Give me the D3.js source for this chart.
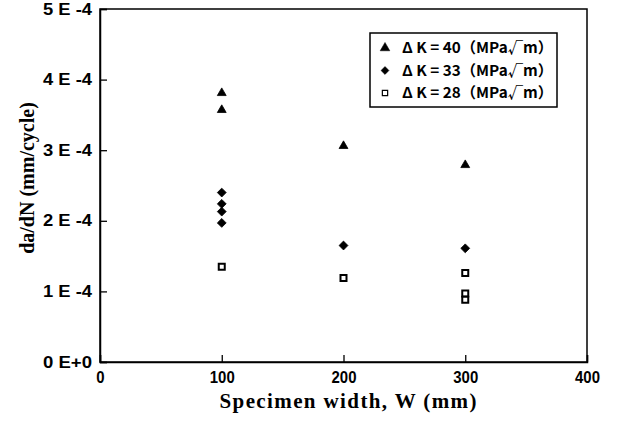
<!DOCTYPE html>
<html>
<head>
  <title>da/dN vs specimen width</title>
  <style>
    body { margin: 0; background: #fff; }
  </style>
</head>
<body>
  <div id="chart-container"></div>
  <script src="https://d3js.org/d3.v7.min.js"></script>
  <script>
    // data
    const widths40 = [100, 100, 200, 300];
    const rates40 = [3.81e-4, 3.57e-4, 3.06e-4, 2.79e-4];
    const widths33 = [100, 100, 100, 100, 200, 300];
    const rates33 = [2.40e-4, 2.24e-4, 2.13e-4, 1.97e-4, 1.65e-4, 1.61e-4];
    const widths28 = [100, 200, 300, 300, 300];
    const rates28 = [1.35e-4, 1.19e-4, 1.26e-4, 0.97e-4, 0.88e-4];

    const xTicks = [0, 100, 200, 300, 400];
    const yTicks = [0, 1e-4, 2e-4, 3e-4, 4e-4, 5e-4];
    const yTickLabels = ['0 E+0', '1 E -4', '2 E -4', '3 E -4', '4 E -4', '5 E -4'];
    const legendLabels = ['Δ K = 40（MPa√m）', 'Δ K = 33（MPa√m）', 'Δ K = 28（MPa√m）'];

    const width = 618;
    const height = 421;
    const margin = { top: 9, right: 31, bottom: 59, left: 100 };

    const svg = d3.select('#chart-container')
      .append('svg')
      .attr('width', width)
      .attr('height', height);

    const xScale = d3.scaleLinear().domain([0, 400]).range([margin.left, width - margin.right]);
    const yScale = d3.scaleLinear().domain([0, 5e-4]).range([height - margin.bottom, margin.top]);

    // frame
    svg.append('rect')
      .attr('x', margin.left)
      .attr('y', margin.top)
      .attr('width', width - margin.left - margin.right)
      .attr('height', height - margin.top - margin.bottom)
      .attr('fill', 'none')
      .attr('stroke', '#000')
      .attr('stroke-width', 1.5);

    const xAxis = d3.axisBottom(xScale).tickValues(xTicks).tickSize(-7).tickPadding(5).tickFormat(d3.format('d'));
    const yAxis = d3.axisLeft(yScale).tickValues(yTicks).tickSize(-7).tickPadding(8)
      .tickFormat((d, i) => yTickLabels[i]);

    const gx = svg.append('g').attr('transform', `translate(0,${height - margin.bottom})`).call(xAxis);
    const gy = svg.append('g').attr('transform', `translate(${margin.left},0)`).call(yAxis);
    [gx, gy].forEach(g => {
      g.attr('font-family', '"Liberation Sans", Arial, sans-serif')
        .attr('font-size', 16)
        .attr('font-weight', 'bold');
      g.select('.domain').attr('stroke-width', 1.5);
      g.selectAll('.tick line').attr('stroke-width', 1.3);
    });
    gx.selectAll('.tick text')
      .attr('dy', '1.0em')
      .attr('textLength', function () { return this.textContent.length * 8.3; })
      .attr('lengthAdjust', 'spacingAndGlyphs');
    gy.selectAll('.tick text')
      .attr('textLength', 49)
      .attr('lengthAdjust', 'spacingAndGlyphs');

    svg.append('text')
      .attr('x', 348)
      .attr('y', 408)
      .attr('text-anchor', 'middle')
      .attr('font-family', '"Liberation Serif", serif')
      .attr('font-weight', 'bold')
      .attr('font-size', 21)
      .attr('textLength', 257)
      .text('Specimen width, W (mm)');

    svg.append('text')
      .attr('transform', 'translate(34,178) rotate(-90)')
      .attr('text-anchor', 'middle')
      .attr('font-family', '"Liberation Serif", serif')
      .attr('font-weight', 'bold')
      .attr('font-size', 20)
      .text('da/dN (mm/cycle)');

    const series = [
      { w: widths40, v: rates40, type: d3.symbolTriangle, size: 34, fill: '#000' },
      { w: widths33, v: rates33, type: d3.symbolDiamond2, size: 50, fill: '#000' },
      { w: widths28, v: rates28, type: d3.symbolSquare, size: 36, fill: '#fff' }
    ];

    series.forEach(s => {
      svg.append('g')
        .selectAll('path')
        .data(s.w.map((w, i) => ({ w: w, v: s.v[i] })))
        .enter()
        .append('path')
        .attr('transform', d => `translate(${xScale(d.w)},${yScale(d.v)})`)
        .attr('d', d3.symbol().type(s.type).size(s.size))
        .attr('fill', s.fill)
        .attr('stroke', '#000')
        .attr('stroke-width', s.fill === '#fff' ? 2 : 0.8);
    });

    // legend
    const legend = svg.append('g');
    legend.append('rect')
      .attr('x', 370).attr('y', 33)
      .attr('width', 187).attr('height', 74)
      .attr('fill', '#fff')
      .attr('stroke', '#000')
      .attr('stroke-width', 1.5);

    const legendItems = legend.selectAll('.legend-item')
      .data(series)
      .enter()
      .append('g')
      .attr('transform', (d, i) => `translate(385,${48 + i * 22.5})`);

    legendItems.append('path')
      .attr('d', d => d3.symbol().type(d.type).size(d.type === d3.symbolSquare ? 28 : 40)())
      .attr('fill', d => d.fill)
      .attr('stroke', '#000')
      .attr('stroke-width', d => d.fill === '#fff' ? 1.2 : 0.5);

    legendItems.append('text')
      .attr('x', 17)
      .attr('dy', '0.36em')
      .attr('font-family', '"Noto Sans CJK SC", sans-serif')
      .attr('font-weight', 'bold')
      .attr('font-size', 15)
      .attr('textLength', 151)
      .attr('lengthAdjust', 'spacingAndGlyphs')
      .text((d, i) => legendLabels[i]);
  </script>
</body>
</html>
